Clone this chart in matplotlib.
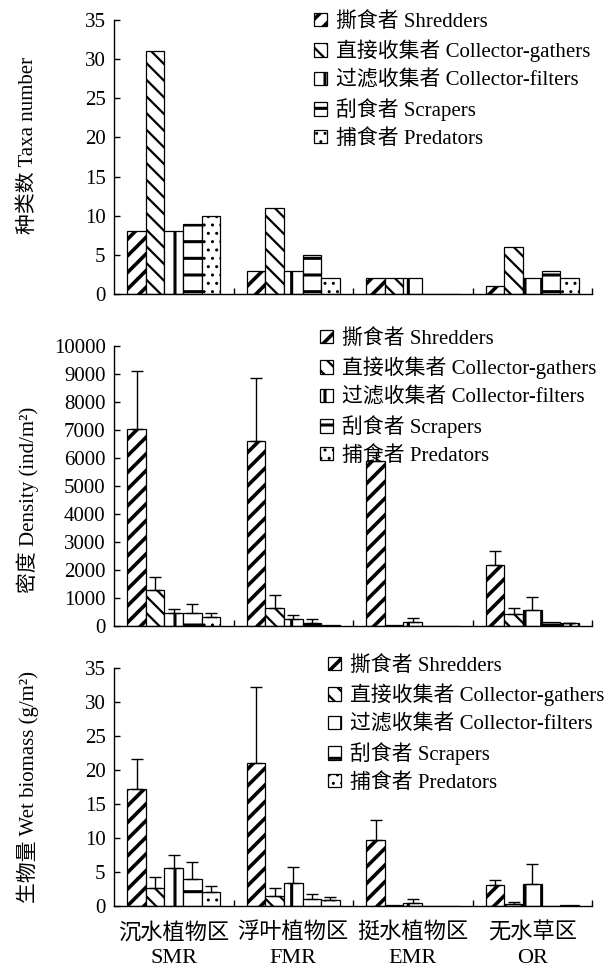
import matplotlib.pyplot as plt
import numpy as np

plt.rcParams['font.family'] = ['Liberation Serif', 'Noto Sans CJK SC']
plt.rcParams['axes.unicode_minus'] = False

regions = ['沉水植物区\nSMR', '浮叶植物区\nFMR', '挺水植物区\nEMR', '无水草区\nOR']
groups = ['撕食者 Shredders', '直接收集者 Collector-gathers',
          '过滤收集者 Collector-filters', '刮食者 Scrapers', '捕食者 Predators']

# rows = regions (SMR, FMR, EMR, OR), columns = feeding groups
taxa = [[8, 31, 8, 9, 10],
        [3, 11, 3, 5, 2],
        [2, 2, 2, 0, 0],
        [1, 6, 2, 3, 2]]

density = [[7050, 1270, 470, 470, 330],
           [6600, 640, 240, 120, 40],
           [5890, 30, 150, 0, 0],
           [2180, 420, 560, 130, 90]]
density_err = [[2050, 490, 120, 320, 140],
               [2240, 470, 160, 120, 0],
               [330, 0, 150, 0, 0],
               [500, 230, 480, 0, 30]]

biomass = [[17.2, 2.7, 5.6, 3.9, 2.0],
           [21.1, 1.5, 3.35, 1.0, 0.85],
           [9.65, 0.1, 0.45, 0, 0],
           [3.15, 0.35, 3.3, 0, 0.1]]
biomass_err = [[4.4, 1.5, 1.9, 2.6, 0.95],
               [11.1, 1.15, 2.4, 0.8, 0.45],
               [2.95, 0, 0.55, 0, 0],
               [0.65, 0.25, 2.85, 0, 0]]

HATCHES = ['//', '\\\\', '|', '-', '..']
HATCH_LW = [2.6, 1.6, 2.2, 2.2, 1.0]
FS = 15


def draw_panel(fig, ax, values, errors, ymax, ystep, legend_xy):
    x = np.arange(len(regions))
    width = 0.155
    for j, name in enumerate(groups):
        vals = np.array([row[j] for row in values], dtype=float)
        pos = x + (j - 2) * width
        # hatch linewidth is taken from rcParams when the bars are created
        with plt.rc_context({'hatch.linewidth': HATCH_LW[j]}):
            ax.bar(pos, vals, width, color='white', edgecolor='black',
                   linewidth=0.9, hatch=HATCHES[j], label=name)
        if errors is not None:
            err = np.array([row[j] for row in errors], dtype=float)
            m = err > 0
            ax.errorbar(pos[m], vals[m], yerr=[np.zeros(m.sum()), err[m]],
                        fmt='none', ecolor='black', elinewidth=1,
                        capsize=4, capthick=1)

    ax.set_xlim(-0.5, 3.5)
    ax.set_ylim(0, ymax)
    ax.set_yticks(np.arange(0, ymax + ystep / 2, ystep))
    ax.set_xticks([0.5, 1.5, 2.5, 3.5])
    ax.set_xticklabels([])
    ax.tick_params(axis='both', direction='in', length=4, width=1,
                   labelsize=FS)
    ax.tick_params(axis='y', pad=6)
    ax.spines['top'].set_visible(False)
    ax.spines['right'].set_visible(False)
    for s in ['left', 'bottom']:
        ax.spines[s].set_linewidth(1)

    leg = ax.legend(loc='upper left', bbox_to_anchor=legend_xy,
                    bbox_transform=fig.transFigure, frameon=False, fontsize=15,
                    handlelength=0.6, handleheight=0.6, handletextpad=0.45,
                    labelspacing=0.38, borderpad=0, borderaxespad=0)
    for j, h in enumerate(leg.legend_handles):
        h.set_hatch_linewidth(HATCH_LW[j])


fig = plt.figure(figsize=(6.14, 9.69), dpi=100)
W, H = 614, 969
left, right = 114 / W, 592 / W

ax1 = fig.add_axes([left, 1 - 294 / H, right - left, (294 - 20) / H])
ax2 = fig.add_axes([left, 1 - 626 / H, right - left, (626 - 346) / H])
ax3 = fig.add_axes([left, 1 - 906 / H, right - left, (906 - 668) / H])

draw_panel(fig, ax1, taxa, None, 35, 5, (314 / W, 1 - 12 / H))
draw_panel(fig, ax2, density, density_err, 10000, 1000, (320 / W, 1 - 329 / H))
draw_panel(fig, ax3, biomass, biomass_err, 35, 5, (328 / W, 1 - 656 / H))

ax3.set_xticks(np.arange(len(regions)), minor=True)
ax3.set_xticklabels(regions, minor=True, fontsize=16, linespacing=1.4)
ax3.tick_params(axis='x', which='minor', length=0, pad=12)

fig.text(28 / W, 1 - 145 / H, '种类数 Taxa number', rotation=90,
         ha='center', va='center', fontsize=FS)
fig.text(28 / W, 1 - 500 / H, '密度 Density (ind/m²)', rotation=90,
         ha='center', va='center', fontsize=FS)
fig.text(28 / W, 1 - 787 / H, '生物量 Wet biomass (g/m²)', rotation=90,
         ha='center', va='center', fontsize=FS)

fig.savefig('out.png', dpi=100)
